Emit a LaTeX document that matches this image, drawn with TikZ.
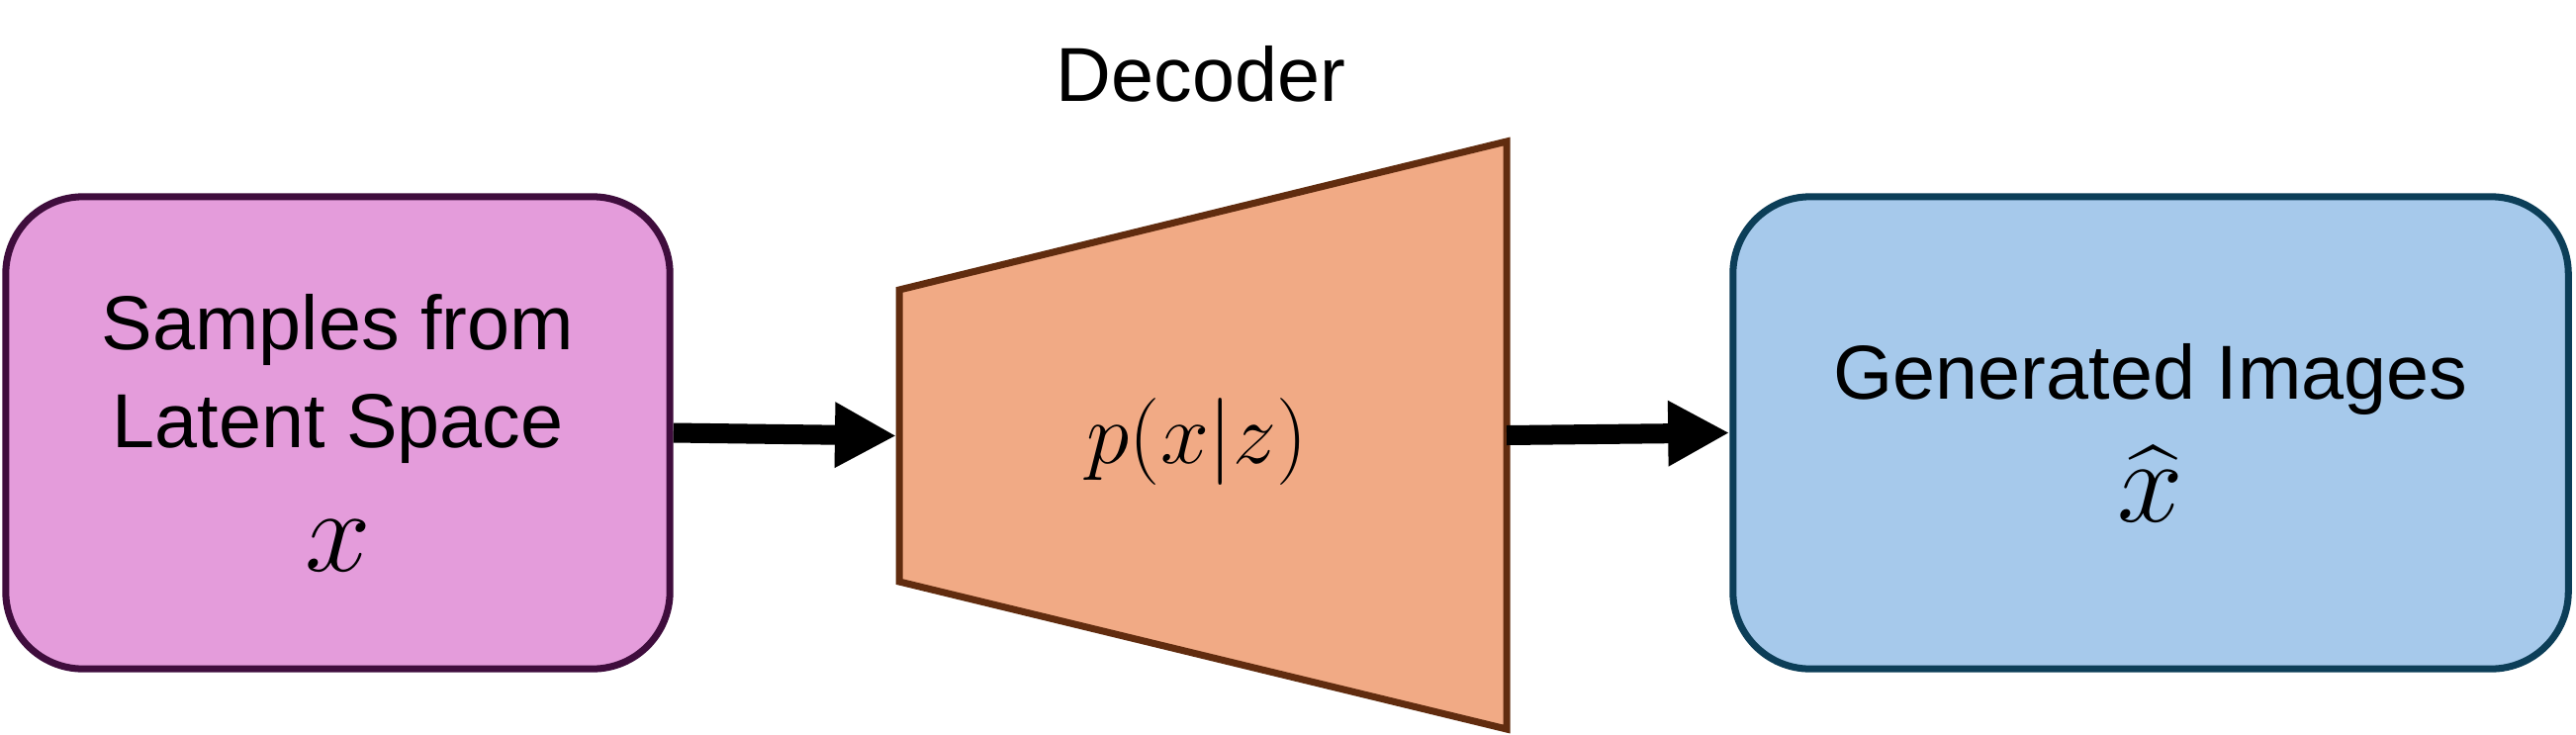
\RequirePackage{fix-cm}
\documentclass[tikz,border=0pt]{standalone}
\usepackage{amsmath}
\usepackage{fontspec}
\setmainfont{Liberation Sans}
\usepackage{xcolor}
\usepackage{tikz}
\usetikzlibrary{arrows.meta,positioning}

\definecolor{latentfill}{HTML}{E49CDB}
\definecolor{latentdraw}{HTML}{3F0D3D}
\definecolor{decoderfill}{HTML}{F1AA85}
\definecolor{decoderdraw}{HTML}{612C0F}
\definecolor{imagefill}{HTML}{A6C9EB}
\definecolor{imagedraw}{HTML}{0C3E58}

\newcommand{\boxfont}{\fontsize{22}{28}\selectfont}
\newcommand{\bigmath}[1]{{\fontsize{34}{28}\selectfont$#1$}}

\begin{document}
\begin{tikzpicture}[
  x=0.01cm, y=-0.01cm,
  block/.style={
    draw,
    line width=2pt,
    rounded corners=0.78cm,
    align=center,
    minimum height=4.77cm,
    font=\boxfont
  },
  arrow/.style={-{Triangle[length=0.62cm,width=0.62cm]}, line width=0.2cm}
]
  \useasboundingbox (0,0) rectangle (2604,742);

  \node[block, fill=latentfill, draw=latentdraw, minimum width=6.71cm] (samples) at (341.5,437.5)
    {Samples from\\Latent Space\\[7.5pt]\bigmath{x}};
  \node[block, fill=imagefill, draw=imagedraw, minimum width=8.44cm] (generated) at (2174,437.5)
    {Generated Images\\[7.5pt]\bigmath{\widehat{x}}};

  % decoder trapezoid
  \coordinate (dtl) at (909,293);
  \coordinate (dbl) at (909,588);
  \coordinate (dtr) at (1523,143);
  \coordinate (dbr) at (1523,737);
  \draw[line width=2pt, draw=decoderdraw, fill=decoderfill] (dtl) -- (dtr) -- (dbr) -- (dbl) -- cycle;
  \coordinate (decin) at (906,440.5);
  \coordinate (decout) at (1523,440);
  \node[font=\fontsize{25}{28}\selectfont] (pxz) at (1210,447) {$p(x|z)$};
  \node[font=\boxfont, anchor=base] (declabel) at (1214,102) {Decoder};

  \draw[arrow] (samples.east) -- (decin);
  \draw[arrow] (decout) -- (generated.west);
\end{tikzpicture}
\end{document}
